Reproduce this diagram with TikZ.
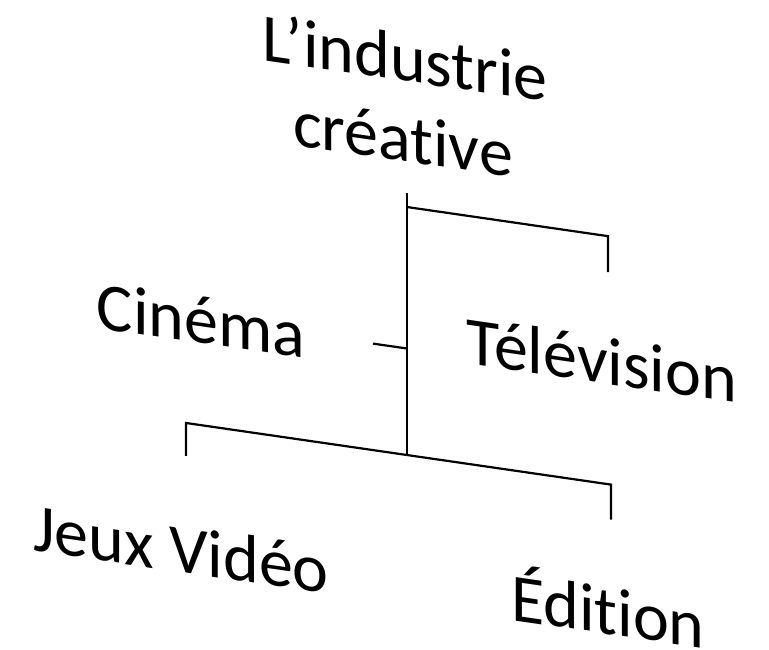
\documentclass[tikz,border=0pt]{standalone}
\usepackage{fontspec}
\newfontfamily\lblfont[Ligatures=NoCommon]{Carlito}
\tikzset{
  lbl/.style={inner sep=0pt, anchor=base, transform shape,
    font=\lblfont\fontsize{68}{80}\selectfont},
  branch/.style={line width=2.2pt, line join=miter}
}
\begin{document}
\begin{tikzpicture}[x=1pt,y=-1pt]
\useasboundingbox (0,0) rectangle (769,649);
\begin{scope}[yslant=-0.145]
  % labels
  \node[lbl] (root)  at (405,22.3)  {L’industrie};
  \node[lbl] (rootb) at (403,102.6) {créative};
  \node[lbl] (cin)   at (201,314)   {Cinéma};
  \node[lbl] (tv)    at (602,296)   {Télévision};
  \node[lbl] (jv)    at (181,546)   {Jeux Vidéo};
  \node[lbl] (ed)    at (608,546)   {Édition};
  % branching points
  \coordinate (trunktop) at (407,134);
  \coordinate (tvfork)   at (407,148);
  \coordinate (cinfork)  at (407,289.5);
  \coordinate (lowfork)  at (407,396);
  \coordinate (tvend)    at (608,184);
  \coordinate (cinend)   at (373,289.5);
  \coordinate (jvend)    at (186,429);
  \coordinate (edend)    at (611,431);
  % connectors
  \draw[branch] (trunktop) -- (lowfork);
  \draw[branch] (tvfork) -- (tvend |- tvfork) -- (tvend);
  \draw[branch] (cinfork) -- (cinend);
  \draw[branch] (jvend) -- (jvend |- lowfork) -- (edend |- lowfork) -- (edend);
\end{scope}
\end{tikzpicture}
\end{document}
